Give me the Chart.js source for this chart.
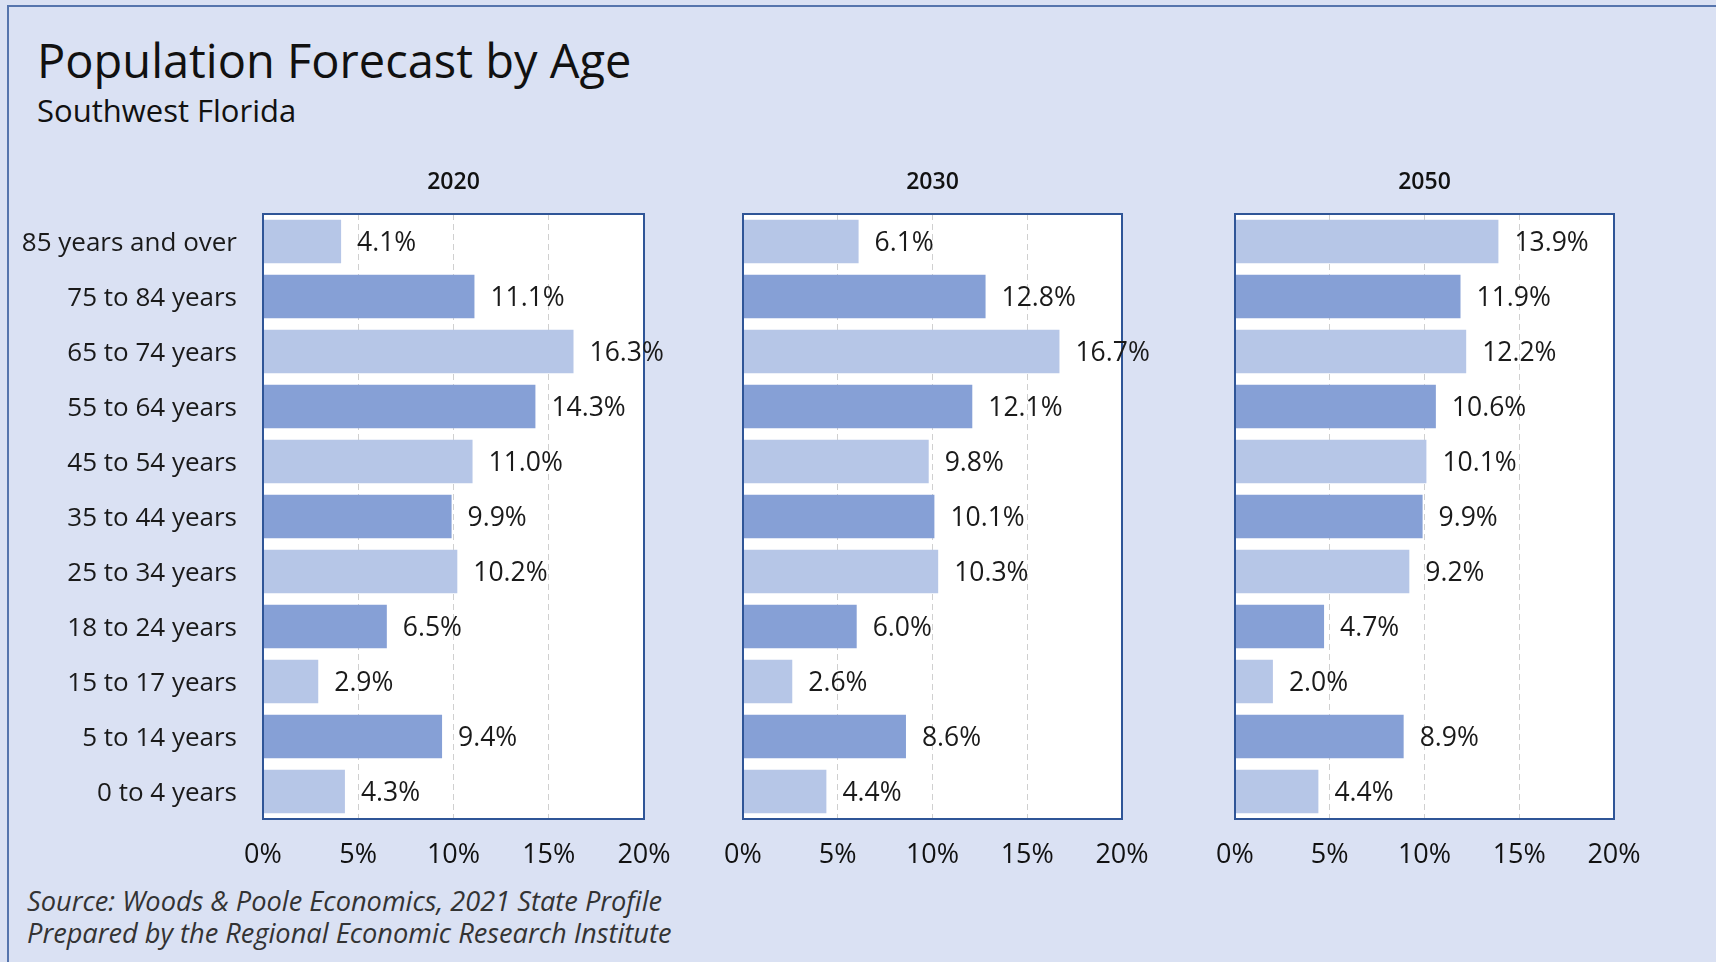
<!DOCTYPE html>
<html>
<head>
<meta charset="utf-8">
<title>Population Forecast by Age</title>
<script src="https://cdn.jsdelivr.net/npm/chart.js@4.4.0/dist/chart.umd.min.js"></script>
<style>
  html, body { margin: 0; padding: 0; }
  body {
    width: 1716px; height: 962px; position: relative; overflow: hidden;
    background: #dae1f3; font-family: "Open Sans", sans-serif; color: #111;
  }
  #frame { position: absolute; left: 7px; top: 5px; width: 1800px; height: 1100px; border: 2px solid #5675ad; }
  .txt { position: absolute; white-space: nowrap; }
  #title { left: 37px; top: 37px; font-size: 47px; line-height: 47px; }
  #subtitle { left: 37px; top: 95px; font-size: 31px; line-height: 31px; }
  #source { left: 27px; top: 885px; font-size: 27.2px; line-height: 32px; font-style: italic; color: #333; }
  canvas { position: absolute; top: 150px; }
</style>
</head>
<body>
<div id="frame"></div>
<div id="title" class="txt">Population Forecast by Age</div>
<div id="subtitle" class="txt">Southwest Florida</div>
<div id="source" class="txt">Source: Woods &amp; Poole Economics, 2021 State Profile<br>Prepared by the Regional Economic Research Institute</div>

<canvas id="p2020" width="720" height="760" style="left:0px"></canvas>
<canvas id="p2030" width="520" height="760" style="left:680px"></canvas>
<canvas id="p2050" width="536" height="760" style="left:1180px"></canvas>

<script>
// categories, top to bottom
const ageGroups = ['85 years and over', '75 to 84 years', '65 to 74 years', '55 to 64 years',
  '45 to 54 years', '35 to 44 years', '25 to 34 years', '18 to 24 years',
  '15 to 17 years', '5 to 14 years', '0 to 4 years'];

// share of population, %
const share2020 = [4.1, 11.1, 16.3, 14.3, 11.0, 9.9, 10.2, 6.5, 2.9, 9.4, 4.3];
const share2030 = [6.1, 12.8, 16.7, 12.1, 9.8, 10.1, 10.3, 6.0, 2.6, 8.6, 4.4];
const share2050 = [13.9, 11.9, 12.2, 10.6, 10.1, 9.9, 9.2, 4.7, 2.0, 8.9, 4.4];

const xTicks = [0, 5, 10, 15, 20];

const FONT = '"Open Sans", sans-serif';
const LIGHT = '#b6c6e7';
const DARK = '#86a0d6';

// white plot area behind the grid
const plotFill = {
  id: 'plotFill',
  beforeDraw(chart) {
    const a = chart.chartArea;
    chart.ctx.save();
    chart.ctx.fillStyle = '#ffffff';
    chart.ctx.fillRect(a.left, a.top, a.right - a.left, a.bottom - a.top);
    chart.ctx.restore();
  }
};

// frame round the plot area, year above it, value labels at bar ends
const panelDecor = {
  id: 'panelDecor',
  afterDatasetsDraw(chart, args, opts) {
    const ctx = chart.ctx;
    const a = chart.chartArea;
    ctx.save();
    ctx.strokeStyle = '#2f5597';
    ctx.lineWidth = 2;
    ctx.strokeRect(a.left, a.top, a.right - a.left, a.bottom - a.top);

    ctx.font = '26.5px ' + FONT;
    ctx.fillStyle = '#1a1a1a';
    ctx.textAlign = 'left';
    ctx.textBaseline = 'middle';
    const values = chart.data.datasets[0].data;
    chart.getDatasetMeta(0).data.forEach((bar, i) => {
      ctx.fillText(values[i].toFixed(1) + '%', bar.x + 16, bar.y + 2);
    });

    ctx.font = '600 23px ' + FONT;
    ctx.fillStyle = '#111';
    ctx.textAlign = 'center';
    ctx.fillText(opts.year, (a.left + a.right) / 2, a.top - 32);
    ctx.restore();
  }
};

function makePanel(id, year, values, showLabels, axisWidth, padRight) {
  return new Chart(document.getElementById(id), {
    type: 'bar',
    data: {
      labels: ageGroups,
      datasets: [{
        data: values,
        backgroundColor: values.map((v, i) => i % 2 === 0 ? LIGHT : DARK),
        borderWidth: 0,
        barPercentage: 0.79,
        categoryPercentage: 1
      }]
    },
    plugins: [plotFill, panelDecor],
    options: {
      responsive: false,
      animation: false,
      indexAxis: 'y',
      layout: { padding: { top: 64, right: padRight, left: 0, bottom: 0 } },
      plugins: {
        legend: { display: false },
        tooltip: { enabled: false },
        panelDecor: { year: year }
      },
      scales: {
        x: {
          min: 0, max: 20,
          afterBuildTicks: s => { s.ticks = xTicks.map(v => ({ value: v })); },
          afterFit: s => { s.height = 91; },
          ticks: {
            callback: v => v + '%',
            font: { family: FONT, size: 27 },
            color: '#111',
            padding: 20,
            maxRotation: 0
          },
          grid: {
            color: c => (c.tick && (c.tick.value === 0 || c.tick.value === 20)) ? 'rgba(0,0,0,0)' : '#d0d0d0',
            lineWidth: 1,
            drawTicks: false
          },
          border: { display: false, dash: [6, 4] }
        },
        y: {
          afterFit: s => { s.width = axisWidth; },
          ticks: {
            display: showLabels,
            font: { family: FONT, size: 26 },
            color: '#1a1a1a',
            padding: 18,
            labelOffset: 2
          },
          grid: { display: false },
          border: { display: false }
        }
      }
    }
  });
}

makePanel('p2020', '2020', share2020, true, 263, 76);
makePanel('p2030', '2030', share2030, false, 63, 78);
makePanel('p2050', '2050', share2050, false, 55, 102);
</script>
</body>
</html>
